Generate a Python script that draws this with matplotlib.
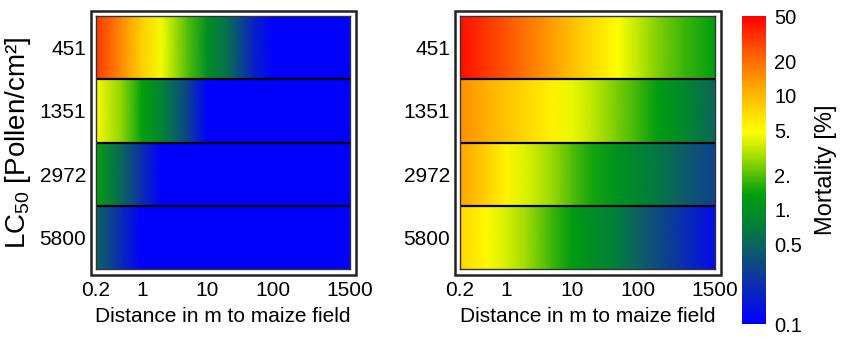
import numpy as np
import matplotlib
matplotlib.use("Agg")
import matplotlib.pyplot as plt
from matplotlib.colors import LinearSegmentedColormap, LogNorm
from matplotlib.patches import Rectangle
from matplotlib.cm import ScalarMappable

plt.rcParams['font.family'] = ['Liberation Sans', 'DejaVu Sans']
plt.rcParams['mathtext.default'] = 'regular'

# ---- data ----
lc50_labels = ["451", "1351", "2972", "5800"]
distances = [0.2, 0.5, 1, 2, 5, 10, 20, 50, 100, 200, 500, 1500]
xtick_values = [0.2, 1, 10, 100, 1500]
xtick_labels = ["0.2", "1", "10", "100", "1500"]

# mortality [%], left panel
left_451 = [32, 15, 8, 4.6, 2.0, 1.0, 0.58, 0.18, 0.1, 0.1, 0.1, 0.1]
left_1351 = [5.2, 2.6, 1.4, 0.8, 0.3, 0.1, 0.1, 0.1, 0.1, 0.1, 0.1, 0.1]
left_2972 = [1.4, 0.5, 0.22, 0.1, 0.1, 0.1, 0.1, 0.1, 0.1, 0.1, 0.1, 0.1]
left_5800 = [0.5, 0.2, 0.1, 0.1, 0.1, 0.1, 0.1, 0.1, 0.1, 0.1, 0.1, 0.1]

# mortality [%], right panel
right_451 = [45, 32, 25, 19, 13, 9.5, 7, 4.8, 3.4, 2.5, 1.8, 1.3]
right_1351 = [15, 11, 9, 7.5, 5.5, 4.4, 3.4, 2.4, 1.8, 1.3, 0.9, 0.5]
right_2972 = [12, 8, 5.6, 4.0, 2.8, 2.0, 1.5, 1.05, 0.82, 0.65, 0.45, 0.3]
right_5800 = [7.5, 5.2, 3.9, 2.9, 1.8, 1.3, 1.0, 0.7, 0.48, 0.35, 0.22, 0.12]

cbar_ticks = [0.1, 0.5, 1, 2, 5, 10, 20, 50]
cbar_labels = ["0.1", "0.5", "1.", "2.", "5.", "10", "20", "50"]

# ---- colormap ----
nodes = [
    (0.00, (0.00, 0.00, 1.00)),
    (0.14, (0.05, 0.20, 0.65)),
    (0.25, (0.05, 0.38, 0.38)),
    (0.32, (0.00, 0.50, 0.22)),
    (0.42, (0.00, 0.62, 0.05)),
    (0.56, (0.72, 0.90, 0.00)),
    (0.626, (1.00, 1.00, 0.00)),
    (0.72, (1.00, 0.78, 0.00)),
    (0.80, (1.00, 0.58, 0.00)),
    (0.89, (1.00, 0.33, 0.00)),
    (1.00, (1.00, 0.00, 0.00)),
]
cmap = LinearSegmentedColormap.from_list("mort", nodes)
norm = LogNorm(vmin=0.1, vmax=50, clip=True)

W, H = 841, 337
fig = plt.figure(figsize=(W / 100, H / 100), dpi=100)

def px_axes(x0, y0, x1, y1):
    return fig.add_axes([x0 / W, 1 - y1 / H, (x1 - x0) / W, (y1 - y0) / H])

FS = 15

def draw_panel(ax, rows, show_ylabel):
    d = np.array(distances, dtype=float)
    for i, vals in enumerate(rows):
        X = np.vstack([d, d])
        Y = np.vstack([np.full(d.size, i), np.full(d.size, i + 1)])
        C = np.vstack([vals, vals]).astype(float)
        ax.pcolormesh(X, Y, C, shading='gouraud', cmap=cmap, norm=norm)
    ax.set_xscale('log')
    ax.set_xlim(0.2, 1500)
    ax.set_ylim(len(rows), 0)
    for i in range(1, len(rows)):
        ax.axhline(i, color='black', lw=1.6)
    ax.set_xticks(xtick_values)
    ax.set_xticklabels(xtick_labels, fontsize=FS)
    ax.minorticks_off()
    ax.set_yticks(np.arange(len(rows)) + 0.5)
    ax.set_yticklabels(lc50_labels, fontsize=FS)
    ax.tick_params(axis='both', length=0)
    ax.tick_params(axis='y', pad=7)
    ax.tick_params(axis='x', pad=9)
    ax.set_xlabel("Distance in m to maize field", fontsize=FS, labelpad=5)
    for s in ax.spines.values():
        s.set_linewidth(1.0)
        s.set_color('#333333')
    bw = ax.get_position().width * W
    bh = ax.get_position().height * H
    dx, dy = 5.5 / bw, 5.5 / bh
    ax.add_patch(Rectangle((-dx, -dy), 1 + 2 * dx, 1 + 2 * dy, transform=ax.transAxes,
                           fill=False, lw=1.8, ec='#222222', clip_on=False))
    if show_ylabel:
        ax.set_ylabel("LC$_{50}$ [Pollen/cm²]", fontsize=20, labelpad=5)

ax1 = px_axes(96, 16, 350, 269)
draw_panel(ax1, [left_451, left_1351, left_2972, left_5800], True)
ax2 = px_axes(460, 16, 715, 269)
draw_panel(ax2, [right_451, right_1351, right_2972, right_5800], False)

cax = px_axes(742, 16, 766, 324)
sm = ScalarMappable(norm=LogNorm(vmin=0.1, vmax=50), cmap=cmap)
cb = fig.colorbar(sm, cax=cax)
cb.outline.set_visible(False)
cb.set_ticks(cbar_ticks)
cb.set_ticklabels(cbar_labels)
cb.ax.minorticks_off()
cb.ax.tick_params(length=0, labelsize=14.5, pad=6)
cb.set_label("Mortality [%]", fontsize=17, labelpad=9)

fig.savefig("out.png", dpi=100)
